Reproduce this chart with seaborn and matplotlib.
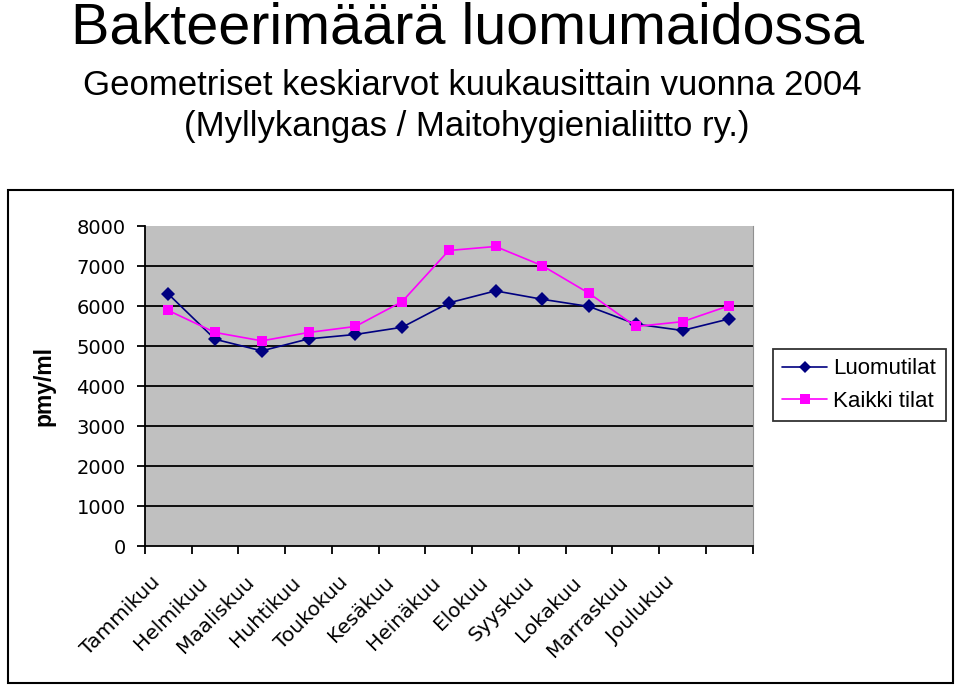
import pandas as pd
import matplotlib.pyplot as plt
import matplotlib.patches as patches
import seaborn as sns

# Data (pmy/ml, geometric means per month)
months = ['Tammikuu', 'Helmikuu', 'Maaliskuu', 'Huhtikuu', 'Toukokuu', 'Kesäkuu',
          'Heinäkuu', 'Elokuu', 'Syyskuu', 'Lokakuu', 'Marraskuu', 'Joulukuu', '']
luomutilat = [6300, 5170, 4880, 5180, 5290, 5470, 6080, 6380, 6170, 5990, 5550, 5390, 5680]
kaikki_tilat = [5890, 5340, 5130, 5340, 5490, 6110, 7390, 7490, 7010, 6320, 5490, 5610, 6010]

pos = list(range(len(months)))
df = pd.DataFrame({
    'pos': pos * 2,
    'value': luomutilat + kaikki_tilat,
    'series': ['Luomutilat'] * len(pos) + ['Kaikki tilat'] * len(pos),
})

sns.set_style('white')
plt.rcParams['font.family'] = ['Liberation Sans', 'DejaVu Sans']
plt.rcParams['text.color'] = 'black'
plt.rcParams['axes.labelcolor'] = 'black'
plt.rcParams['xtick.color'] = 'black'
plt.rcParams['ytick.color'] = 'black'

fig = plt.figure(figsize=(9.6, 6.91), dpi=100)
ax = fig.add_axes([0.151, 0.2098, 0.633, 0.463])
ax.set_facecolor('#c0c0c0')

sns.lineplot(data=df, x='pos', y='value', hue='series', style='series',
             palette={'Luomutilat': '#000080', 'Kaikki tilat': '#ff00ff'},
             markers={'Luomutilat': 'D', 'Kaikki tilat': 's'},
             dashes=False, markersize=7.5, linewidth=1.2, markeredgewidth=0,
             ax=ax, legend=False)

ax.set_xlim(-0.5, len(months) - 0.5)
ax.set_ylim(0, 8000)
ax.set_yticks(range(0, 8001, 1000))
for y in range(1000, 8000, 1000):
    ax.axhline(y, color='black', lw=1.3, zorder=0.5)

# labels sit a bit left of each category centre, like in the original
ax.set_xticks([p - 0.23 for p in pos])
ax.set_xticklabels(months, rotation=45, ha='right', va='center', rotation_mode='anchor',
                   fontsize=14.5, family='DejaVu Sans')
ax.set_xticks([p - 0.5 for p in pos] + [len(months) - 0.5], minor=True)
ax.tick_params(axis='x', which='major', length=0, pad=24)
ax.tick_params(axis='x', which='minor', length=6, width=1.3, color='black', direction='out', bottom=True)
ax.tick_params(axis='y', length=6, width=1.3, color='black', direction='out', left=True,
               labelsize=14, pad=8)
for lab in ax.get_yticklabels():
    lab.set_family('DejaVu Sans')
ax.set_xlabel('')
ax.set_ylabel('pmy/ml', fontsize=16.5, fontweight='bold')
ax.yaxis.set_label_coords(55 / 960, 1 - 386 / 691, transform=fig.transFigure)

ax.spines['top'].set_visible(False)
ax.spines['right'].set_color('#909090')
ax.spines['left'].set_color('black')
ax.spines['bottom'].set_color('black')
ax.spines['left'].set_linewidth(1.3)
ax.spines['bottom'].set_linewidth(1.3)

# Legend
handles = [
    plt.Line2D([], [], color='#000080', marker='D', markersize=6.5, lw=1.2, markeredgewidth=0),
    plt.Line2D([], [], color='#ff00ff', marker='s', markersize=6.5, lw=1.2, markeredgewidth=0),
]
leg = fig.legend(handles, ['Luomutilat', 'Kaikki tilat'], loc='upper left',
                 bbox_to_anchor=(773 / 960, 1 - 349 / 691), borderaxespad=0,
                 fontsize=16, frameon=True, fancybox=False, edgecolor='black',
                 handlelength=2.0, borderpad=0.42, labelspacing=0.52, handletextpad=0.3)
leg.get_frame().set_linewidth(1.3)

# Outer chart frame
fig.patches.append(patches.Rectangle((8 / 960, 1 - 683 / 691), 945 / 960, 493 / 691,
                                     transform=fig.transFigure, fill=False,
                                     edgecolor='black', lw=1.5))

fig.text(467.5 / 960, 1 - 43 / 691, 'Bakteerimäärä luomumaidossa', ha='center',
         va='baseline', fontsize=41.4)
fig.text(472.5 / 960, 1 - 95 / 691, 'Geometriset keskiarvot kuukausittain vuonna 2004',
         ha='center', va='baseline', fontsize=25)
fig.text(466.5 / 960, 1 - 136 / 691, '(Myllykangas / Maitohygienialiitto ry.)',
         ha='center', va='baseline', fontsize=25)

fig.savefig('out.png', dpi=100)
